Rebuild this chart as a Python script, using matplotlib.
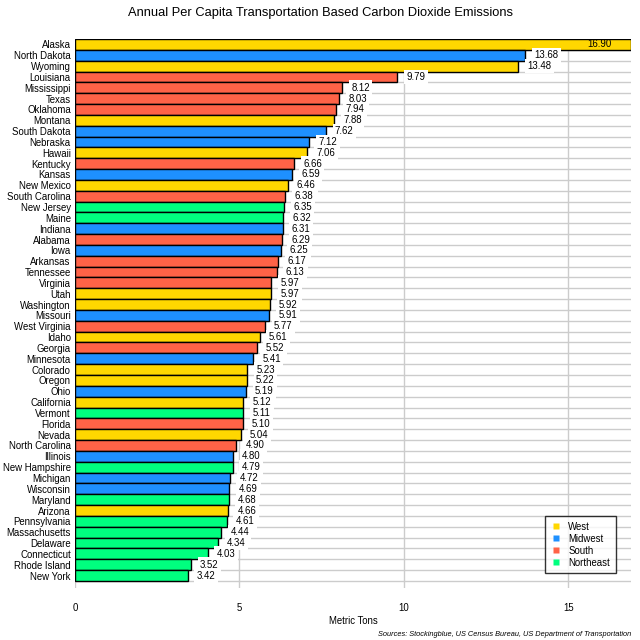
import matplotlib

matplotlib.use("Agg")
import matplotlib.pyplot as plt
from matplotlib.lines import Line2D

plt.rcParams["font.family"] = ["Liberation Sans", "DejaVu Sans"]

STATES = [
    "Alaska", "North Dakota", "Wyoming", "Louisiana", "Mississippi", "Texas",
    "Oklahoma", "Montana", "South Dakota", "Nebraska", "Hawaii", "Kentucky",
    "Kansas", "New Mexico", "South Carolina", "New Jersey", "Maine", "Indiana",
    "Alabama", "Iowa", "Arkansas", "Tennessee", "Virginia", "Utah", "Washington",
    "Missouri", "West Virginia", "Idaho", "Georgia", "Minnesota", "Colorado",
    "Oregon", "Ohio", "California", "Vermont", "Florida", "Nevada",
    "North Carolina", "Illinois", "New Hampshire", "Michigan", "Wisconsin",
    "Maryland", "Arizona", "Pennsylvania", "Massachusetts", "Delaware",
    "Connecticut", "Rhode Island", "New York",
]
VALUES = [
    16.90, 13.68, 13.48, 9.79, 8.12, 8.03, 7.94, 7.88, 7.62, 7.12, 7.06, 6.66,
    6.59, 6.46, 6.38, 6.35, 6.32, 6.31, 6.29, 6.25, 6.17, 6.13, 5.97, 5.97, 5.92,
    5.91, 5.77, 5.61, 5.52, 5.41, 5.23, 5.22, 5.19, 5.12, 5.11, 5.10, 5.04, 4.90,
    4.80, 4.79, 4.72, 4.69, 4.68, 4.66, 4.61, 4.44, 4.34, 4.03, 3.52, 3.42,
]
REGIONS = [
    "West", "Midwest", "West", "South", "South", "South", "South", "West",
    "Midwest", "Midwest", "West", "South", "Midwest", "West", "South",
    "Northeast", "Northeast", "Midwest", "South", "Midwest", "South", "South",
    "South", "West", "West", "Midwest", "South", "West", "South", "Midwest",
    "West", "West", "Midwest", "West", "Northeast", "South", "West", "South",
    "Midwest", "Northeast", "Midwest", "Midwest", "Northeast", "West",
    "Northeast", "Northeast", "Northeast", "Northeast", "Northeast", "Northeast",
]
REGION_ORDER = ["West", "Midwest", "South", "Northeast"]
REGION_COLORS = {"West": "#FFD700", "Midwest": "#1E90FF",
                 "South": "#FF6347", "Northeast": "#00FF7F"}

XMAX = 16.9
GRID = "#cccccc"
FS = 6.9

fig = plt.figure(figsize=(6.4, 6.4), dpi=100)
ax = fig.add_axes([75 / 640, 1 - 588 / 640, 556 / 640, 549 / 640])

n = len(STATES)
ys = list(range(n))
ax.barh(ys, VALUES, height=1.0, color=[REGION_COLORS[r] for r in REGIONS],
        edgecolor="black", linewidth=1.0, zorder=3)

# horizontal grid at bar boundaries, vertical grid at ticks
for b in range(n + 1):
    ax.plot([0, XMAX], [b - 0.5, b - 0.5], color=GRID, lw=1, zorder=1)
for t in (0, 5, 10, 15):
    ax.plot([t, t], [-0.5, n + 0.15], color=GRID, lw=1, zorder=1)

for y, v in zip(ys, VALUES):
    if v + 1.5 > XMAX:
        ax.text(XMAX - 0.58, y, f"{v:.2f}", ha="right", va="center",
                fontsize=FS, zorder=5)
    else:
        ax.text(v + 0.28, y, f"{v:.2f}", ha="left", va="center", fontsize=FS,
                zorder=4, bbox=dict(boxstyle="square,pad=0.25", fc="white",
                                    ec="none"))

ax.set_xlim(0, XMAX)
ax.set_ylim(n + 0.15, -0.5)
ax.set_yticks(ys)
ax.set_yticklabels(STATES, fontsize=FS)
ax.set_xticks([0, 5, 10, 15])
ax.set_xticklabels(["0", "5", "10", "15"], fontsize=FS)
ax.tick_params(axis="both", length=0)
ax.tick_params(axis="x", pad=11)
ax.tick_params(axis="y", pad=3)
for s in ax.spines.values():
    s.set_visible(False)
ax.set_xlabel("Metric Tons", fontsize=FS, labelpad=2)

handles = [Line2D([0], [0], marker="s", linestyle="none", markersize=5,
                  markerfacecolor=REGION_COLORS[r], markeredgecolor="none",
                  label=r) for r in REGION_ORDER]
leg = ax.legend(handles=handles, loc="lower right", bbox_to_anchor=(0.981, 0.018),
                fontsize=FS, frameon=True, fancybox=False, handletextpad=0.8,
                labelspacing=0.2, borderpad=0.6, handlelength=1.0)
leg.get_frame().set_edgecolor("black")
leg.get_frame().set_linewidth(1.0)
leg.set_zorder(6)

fig.text(0.5, 1 - 13 / 640, "Annual Per Capita Transportation Based Carbon Dioxide Emissions",
         ha="center", va="center", fontsize=9.3)
fig.text(631 / 640, 1 - 634 / 640,
         "Sources: Stockingblue, US Census Bureau, US Department of Transportation",
         ha="right", va="center", fontsize=5.3, style="italic")

fig.savefig("out.png", dpi=100, facecolor="white")
